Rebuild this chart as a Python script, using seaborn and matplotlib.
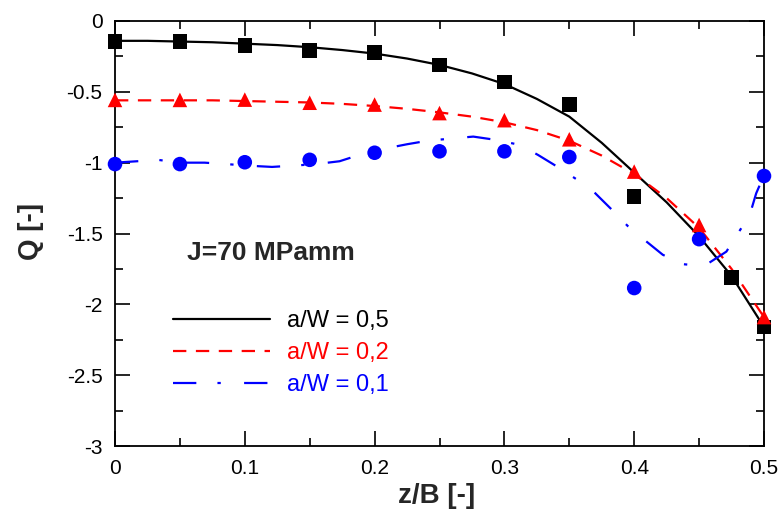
import matplotlib
matplotlib.use("Agg")
import matplotlib.pyplot as plt
import seaborn as sns
import numpy as np

# ---- data ----
z_pts = [0.0, 0.05, 0.1, 0.15, 0.2, 0.25, 0.3, 0.35, 0.4, 0.45, 0.5]
z_sq = [0.0, 0.05, 0.1, 0.15, 0.2, 0.25, 0.3, 0.35, 0.4, 0.475, 0.5]
q_sq = [-0.146, -0.143, -0.174, -0.21, -0.224, -0.31, -0.43, -0.59, -1.24, -1.81, -2.16]
q_tri = [-0.557, -0.557, -0.555, -0.577, -0.59, -0.65, -0.70, -0.835, -1.063, -1.44, -2.09]
q_cir = [-1.01, -1.01, -0.997, -0.98, -0.93, -0.92, -0.92, -0.96, -1.885, -1.54, -1.094]

z_fit = [0.0, 0.025, 0.05, 0.075, 0.1, 0.125, 0.15, 0.175, 0.2, 0.225, 0.25,
         0.275, 0.3, 0.325, 0.35, 0.375, 0.4, 0.425, 0.45, 0.475, 0.5]
q_fit_05 = [-0.14, -0.14, -0.145, -0.15, -0.16, -0.17, -0.185, -0.205, -0.23, -0.265,
            -0.31, -0.37, -0.445, -0.55, -0.675, -0.86, -1.07, -1.28, -1.52, -1.80, -2.16]
q_fit_02 = [-0.56, -0.56, -0.56, -0.56, -0.565, -0.57, -0.575, -0.585, -0.60, -0.62,
            -0.645, -0.675, -0.715, -0.77, -0.845, -0.95, -1.08, -1.25, -1.46, -1.75, -2.09]
z_fit_01 = [0.0, 0.017, 0.033, 0.05, 0.069, 0.086, 0.1, 0.121, 0.139, 0.155, 0.173,
            0.19, 0.2, 0.225, 0.241, 0.259, 0.276, 0.294, 0.312, 0.326, 0.341, 0.356,
            0.37, 0.383, 0.395, 0.408, 0.422, 0.438, 0.454, 0.471, 0.48, 0.489, 0.494, 0.5]
q_fit_01 = [-1.0, -0.99, -0.98, -1.0, -1.0, -1.01, -1.02, -1.03, -1.02, -1.01, -0.99,
            -0.94, -0.915, -0.87, -0.845, -0.83, -0.816, -0.84, -0.875, -0.946, -1.03, -1.12,
            -1.216, -1.334, -1.447, -1.546, -1.65, -1.717, -1.729, -1.628, -1.498, -1.369, -1.216, -1.09]

labels = ["a/W = 0,5", "a/W = 0,2", "a/W = 0,1"]
colors = ["black", "red", "blue"]

xticks = [0.0, 0.1, 0.2, 0.3, 0.4, 0.5]
xticklabels = ["0", "0.1", "0.2", "0.3", "0.4", "0.5"]
yticks = [0, -0.5, -1, -1.5, -2, -2.5, -3]
yticklabels = ["0", "-0.5", "-1", "-1.5", "-2", "-2.5", "-3"]

# ---- style ----
sns.set_style("ticks")
plt.rcParams["font.family"] = ["Liberation Sans", "DejaVu Sans"]
plt.rcParams["axes.unicode_minus"] = False

fig = plt.figure(figsize=(7.84, 5.19), dpi=100)
ax = fig.add_axes([115 / 784, 1 - 446 / 519, 649 / 784, 425 / 519])

lw = 1.6
sns.lineplot(x=z_fit, y=q_fit_05, ax=ax, color=colors[0], lw=lw, label=labels[0],
             linestyle="-", sort=False, estimator=None)
sns.lineplot(x=z_fit, y=q_fit_02, ax=ax, color=colors[1], lw=lw, label=labels[1],
             linestyle=(0, (6, 4.3)), sort=False, estimator=None)
sns.lineplot(x=z_fit_01, y=q_fit_01, ax=ax, color=colors[2], lw=lw, label=labels[2],
             linestyle=(0, (10.5, 9.5, 1.5, 10.5)), sort=False, estimator=None)

sns.scatterplot(x=z_sq, y=q_sq, ax=ax, color=colors[0], marker="s", s=110,
                edgecolor="none", clip_on=False, zorder=5)
sns.scatterplot(x=z_pts, y=q_tri, ax=ax, color=colors[1], marker="^", s=110,
                edgecolor="none", clip_on=False, zorder=5)
sns.scatterplot(x=z_pts, y=q_cir, ax=ax, color=colors[2], marker="o", s=110,
                edgecolor="none", clip_on=False, zorder=5)

ax.set_xlim(0, 0.5)
ax.set_ylim(-3, 0)
ax.set_xticks(xticks)
ax.set_xticklabels(xticklabels)
ax.set_yticks(yticks)
ax.set_yticklabels(yticklabels)
ax.set_xticks(np.arange(0.05, 0.5, 0.1), minor=True)
ax.set_yticks(np.arange(-2.75, 0, 0.5), minor=True)

ax.tick_params(which="both", direction="in", top=True, right=True, colors="black",
               labelsize=15, width=1.2)
ax.tick_params(which="major", length=11, pad=9)
ax.tick_params(which="minor", length=6)
for s in ax.spines.values():
    s.set_visible(True)
    s.set_linewidth(1.3)
    s.set_color("black")

ax.set_xlabel("z/B [-]", fontsize=20, fontweight="bold")
ax.set_ylabel("Q [-]", fontsize=20, fontweight="bold")
ax.xaxis.set_label_coords(0.496, -0.088)
ax.yaxis.set_label_coords(-0.109, 0.505)

ax.text(72 / 649, (446 - 253) / 425, "J=70 MPamm", transform=ax.transAxes,
        fontsize=19, fontweight="bold", va="center", ha="left")

handles = ax.get_lines()[:3]
leg = ax.legend(handles=handles, labels=labels, loc="upper left",
                bbox_to_anchor=(0.089, 0.32), frameon=False, fontsize=17,
                handlelength=4.1, handletextpad=0.75, labelspacing=0.42,
                borderpad=0, borderaxespad=0, labelcolor="linecolor")

fig.savefig("out.png", dpi=100)
